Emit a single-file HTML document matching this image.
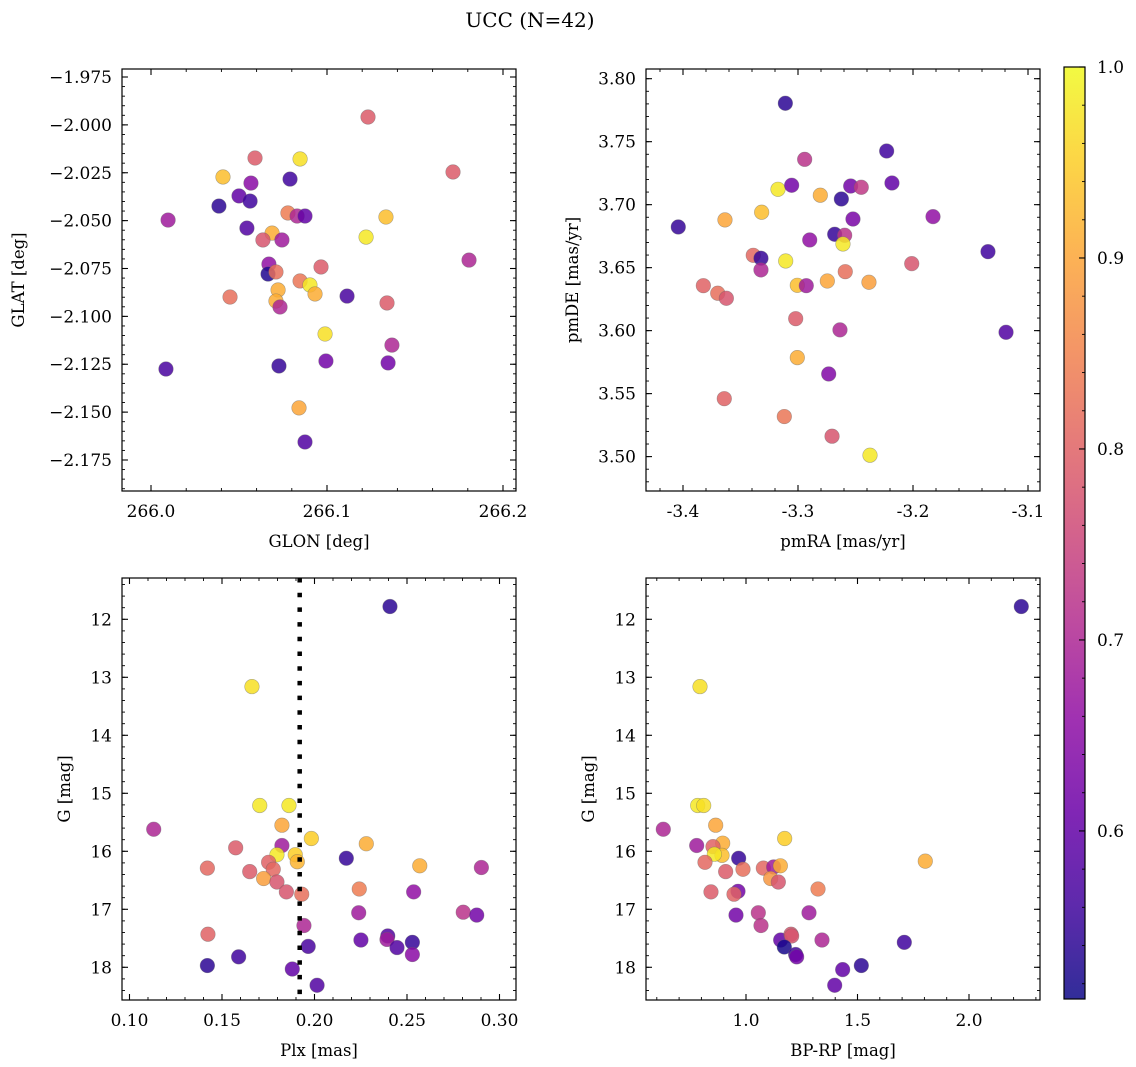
<!DOCTYPE html>
<html><head><meta charset="utf-8"><style>
html,body{margin:0;padding:0;background:#fff;}
svg{display:block;font-family:"DejaVu Serif","Liberation Serif",serif;}
</style></head><body>
<svg id="fig" width="1136" height="1067" viewBox="0 0 1136 1067" xmlns="http://www.w3.org/2000/svg">
<text x="530" y="27" font-size="20" text-anchor="middle">UCC (N=42)</text>
</svg>
<script>
// Panel 1: GLON vs GLAT
const glon=[266.1233,266.0591,266.0847,266.0409,266.0568,266.0790,266.1716,266.0500,266.0563,266.0386,266.0097,266.0778,266.0830,266.0875,266.1335,266.0545,266.0688,266.1222,266.0636,266.0744,266.1807,266.0670,266.0665,266.0710,266.0966,266.0847,266.0903,266.0722,266.0932,266.1114,266.0449,266.0710,266.0733,266.1341,266.0989,266.1369,266.0085,266.0727,266.0994,266.1347,266.0841,266.0875];
const glat=[-1.9959,-2.0173,-2.0178,-2.0272,-2.0304,-2.0283,-2.0246,-2.0371,-2.0398,-2.0424,-2.0497,-2.0460,-2.0476,-2.0476,-2.0481,-2.0539,-2.0565,-2.0586,-2.0601,-2.0601,-2.0706,-2.0727,-2.0779,-2.0768,-2.0742,-2.0815,-2.0836,-2.0862,-2.0883,-2.0894,-2.0899,-2.0920,-2.0951,-2.0930,-2.1092,-2.1150,-2.1275,-2.1259,-2.1233,-2.1243,-2.1478,-2.1656];
const prob1=[0.79,0.79,0.97,0.93,0.65,0.56,0.79,0.60,0.56,0.54,0.68,0.84,0.70,0.60,0.93,0.58,0.91,0.98,0.78,0.68,0.70,0.66,0.53,0.82,0.79,0.83,0.98,0.91,0.91,0.57,0.82,0.91,0.70,0.79,0.97,0.70,0.57,0.55,0.62,0.62,0.90,0.58];
// Panel 2: pmRA vs pmDE
const pmra=[-3.311,-3.2229,-3.2942,-3.3174,-3.3055,-3.2806,-3.2542,-3.2450,-3.2183,-3.2623,-3.3316,-3.3635,-3.4041,-3.2522,-3.1826,-3.2898,-3.2681,-3.2594,-3.2609,-3.1348,-3.3389,-3.3322,-3.3107,-3.2011,-3.3322,-3.2589,-3.3823,-3.3006,-3.2928,-3.2745,-3.2383,-3.3698,-3.3623,-3.3020,-3.2635,-3.1191,-3.3006,-3.2733,-3.3641,-3.3119,-3.2704,-3.2374];
const pmde=[3.7805,3.7426,3.7360,3.7122,3.7154,3.7075,3.7148,3.7138,3.7172,3.7045,3.6940,3.6879,3.6823,3.6886,3.6905,3.6720,3.6765,3.6757,3.6688,3.6627,3.6598,3.6575,3.6553,3.6532,3.6482,3.6468,3.6357,3.6360,3.6357,3.6394,3.6384,3.6297,3.6257,3.6095,3.6006,3.5987,3.5786,3.5656,3.5460,3.5318,3.5162,3.5011];
const prob2=[0.54,0.56,0.72,0.98,0.62,0.91,0.62,0.73,0.60,0.54,0.93,0.90,0.55,0.63,0.66,0.66,0.55,0.72,0.98,0.56,0.81,0.55,0.98,0.78,0.70,0.82,0.80,0.93,0.68,0.90,0.89,0.82,0.78,0.79,0.70,0.58,0.91,0.64,0.80,0.83,0.78,0.98];
// Panel 3: Plx vs G
const plx=[0.2408,0.1662,0.1704,0.1862,0.1131,0.1824,0.1983,0.2280,0.1574,0.1824,0.1797,0.1896,0.1907,0.2172,0.1752,0.1421,0.1777,0.2569,0.2902,0.1650,0.1725,0.1797,0.1848,0.1931,0.2242,0.2536,0.2239,0.2804,0.2877,0.1943,0.1424,0.2251,0.2396,0.2392,0.2446,0.2529,0.2529,0.1966,0.1590,0.1421,0.1880,0.2014];
const gmag3=[11.78,13.16,15.21,15.21,15.62,15.55,15.78,15.87,15.94,15.90,16.06,16.06,16.18,16.12,16.19,16.29,16.31,16.25,16.28,16.35,16.47,16.53,16.70,16.74,16.65,16.70,17.06,17.05,17.10,17.28,17.43,17.53,17.46,17.52,17.66,17.57,17.78,17.64,17.82,17.97,18.03,18.31];
const prob3=[0.54,0.97,0.98,0.98,0.70,0.90,0.95,0.91,0.79,0.68,0.98,0.95,0.92,0.55,0.80,0.81,0.81,0.91,0.70,0.79,0.89,0.78,0.78,0.82,0.84,0.66,0.68,0.72,0.62,0.70,0.80,0.60,0.58,0.68,0.58,0.55,0.65,0.57,0.56,0.54,0.60,0.58];
const plxLine=[0.192];
// Panel 4: BP-RP vs G
const bprp=[2.2345,0.7937,0.7834,0.8103,0.6291,0.8641,1.1734,0.8955,0.7789,0.8520,0.8924,0.8580,0.9671,0.8161,1.8040,0.9865,1.0777,1.1241,1.1540,0.9088,1.1106,1.1450,1.3229,0.8430,0.9641,0.9462,0.9552,1.0552,1.2825,1.0673,1.1554,1.2018,1.2047,1.3408,1.7099,1.1719,1.2227,1.2272,1.5171,1.4335,1.3978];
const gmag4=[11.78,13.16,15.21,15.21,15.62,15.55,15.78,15.86,15.90,15.92,16.07,16.05,16.12,16.19,16.17,16.31,16.29,16.27,16.25,16.35,16.47,16.53,16.65,16.70,16.69,16.74,17.10,17.06,17.06,17.28,17.53,17.43,17.46,17.53,17.57,17.65,17.78,17.82,17.97,18.04,18.31];
const prob4=[0.54,0.97,0.98,0.97,0.70,0.90,0.95,0.91,0.68,0.80,0.93,0.98,0.55,0.81,0.91,0.82,0.81,0.68,0.91,0.79,0.88,0.78,0.84,0.79,0.62,0.80,0.62,0.72,0.68,0.72,0.60,0.78,0.78,0.70,0.56,0.52,0.56,0.62,0.54,0.60,0.60];
// Tick labels
const ticks1x=[266.0,266.1,266.2];
const ticks1y=[-1.975,-2.000,-2.025,-2.050,-2.075,-2.100,-2.125,-2.150,-2.175];
const ticks2x=[-3.4,-3.3,-3.2,-3.1];
const ticks2y=[3.50,3.55,3.60,3.65,3.70,3.75,3.80];
const ticks3x=[0.10,0.15,0.20,0.25,0.30];
const ticksG=[12,13,14,15,16,17,18];
const ticks4x=[1.0,1.5,2.0];
const ticksC=[0.6,0.7,0.8,0.9,1.0];
const cmin=0.512, cmax=1.0;

const NS="http://www.w3.org/2000/svg";
const svg=document.getElementById('fig');
function mk(tag,attrs,parent){const e=document.createElementNS(NS,tag);for(const k in attrs)e.setAttribute(k,attrs[k]);(parent||svg).appendChild(e);return e;}
const stops=[[0,[13,8,135]],[0.1,[65,4,157]],[0.2,[106,0,168]],[0.3,[143,13,164]],[0.4,[177,42,144]],[0.5,[204,71,120]],[0.6,[225,100,98]],[0.7,[242,132,75]],[0.8,[252,166,54]],[0.9,[252,206,37]],[1.0,[240,249,33]]];
function plasma(t){t=Math.max(0,Math.min(1,t));for(let i=1;i<stops.length;i++){if(t<=stops[i][0]){const a=stops[i-1],b=stops[i];const f=(t-a[0])/(b[0]-a[0]);const c=a[1].map((v,j)=>Math.round(v+(b[1][j]-v)*f));return `rgb(${c[0]},${c[1]},${c[2]})`;}}return 'rgb(240,249,33)';}
function cnorm(v){return (v-cmin)/(cmax-cmin);}

function panel(p){
  const g=mk('g',{});
  
  
  const sx=v=>p.x0+(v-p.xmin)/(p.xmax-p.xmin)*p.w;
  const sy=v=>p.inv? p.y0+(v-p.ymin)/(p.ymax-p.ymin)*p.h : p.y0+(p.ymax-v)/(p.ymax-p.ymin)*p.h;
  const pts=mk('g',{},g);
  
  
  for(let i=0;i<p.xs.length&&i<p.ys.length;i++){
    const c=mk('circle',{cx:sx(p.xs[i]),cy:sy(p.ys[i]),r:7.3,fill:plasma(cnorm(p.cs[i])),'fill-opacity':0.85,stroke:'#666','stroke-opacity':0.5,'stroke-width':0.6},pts);
    
    
  }
  if(p.vline){for(const v of p.vline){const l=mk('line',{x1:sx(v),x2:sx(v),y1:p.y0,y2:p.y0+p.h,stroke:'#000','stroke-width':4.5,'stroke-dasharray':'4.5 10.2'},g);
    
    }}
  const fr=mk('rect',{x:p.x0,y:p.y0,width:p.w,height:p.h,fill:'none',stroke:'#000','stroke-width':1.2},g);
  
  
  const eps=1e-9;
  function minors(min,max,step){const a=[];for(let v=Math.ceil(min/step-eps)*step;v<=max+eps;v+=step)a.push(v);return a;}
  for(const v of minors(p.xmin,p.xmax,p.xminor)){const x=sx(v);mk('line',{x1:x,x2:x,y1:p.y0+p.h,y2:p.y0+p.h-3,stroke:'#000','stroke-width':0.9},g);mk('line',{x1:x,x2:x,y1:p.y0,y2:p.y0+3,stroke:'#000','stroke-width':0.9},g);}
  for(const v of minors(Math.min(p.ymin,p.ymax),Math.max(p.ymin,p.ymax),p.yminor)){const y=sy(v);mk('line',{x1:p.x0,x2:p.x0+3,y1:y,y2:y,stroke:'#000','stroke-width':0.9},g);mk('line',{x1:p.x0+p.w,x2:p.x0+p.w-3,y1:y,y2:y,stroke:'#000','stroke-width':0.9},g);}
  for(const v of p.xt){const x=sx(v);mk('line',{x1:x,x2:x,y1:p.y0+p.h,y2:p.y0+p.h-6,stroke:'#000','stroke-width':1.1},g);mk('line',{x1:x,x2:x,y1:p.y0,y2:p.y0+6,stroke:'#000','stroke-width':1.1},g);
    const t=mk('text',{x:x,y:p.y0+p.h+26,'font-size':17,'text-anchor':'middle'},g);t.textContent=v.toFixed(p.xd);
    
    }
  for(const v of p.yt){const y=sy(v);mk('line',{x1:p.x0,x2:p.x0+6,y1:y,y2:y,stroke:'#000','stroke-width':1.1},g);mk('line',{x1:p.x0+p.w,x2:p.x0+p.w-6,y1:y,y2:y,stroke:'#000','stroke-width':1.1},g);
    const t=mk('text',{x:p.x0-10,y:y+6,'font-size':17,'text-anchor':'end'},g);t.textContent=v.toFixed(p.yd).replace('-','\u2212');
    
    }
  const xl=mk('text',{x:p.x0+p.w/2,y:p.y0+p.h+56,'font-size':16.5,'text-anchor':'middle'},g);xl.textContent=p.xlabel;
  
  
  const yl=mk('text',{x:0,y:0,'font-size':16.5,'text-anchor':'middle',transform:`translate(${p.ylx},${p.y0+p.h/2}) rotate(-90)`},g);yl.textContent=p.ylabel;
  
  
}
panel({name:'glon-glat-panel',x0:122,y0:69,w:394,h:422,xmin:265.98352,xmax:266.20739,ymin:-2.19119,ymax:-1.97082,xs:glon,ys:glat,cs:prob1,xt:ticks1x,yt:ticks1y,xminor:0.02,yminor:0.005,xd:1,yd:3,xlabel:'GLON [deg]',ylabel:'GLAT [deg]',ylx:24});
panel({name:'pm-panel',x0:646,y0:69,w:394,h:422,xmin:-3.43217,xmax:-3.08957,ymin:3.4727,ymax:3.8077,xs:pmra,ys:pmde,cs:prob2,xt:ticks2x,yt:ticks2y,xminor:0.02,yminor:0.01,xd:1,yd:2,xlabel:'pmRA [mas/yr]',ylabel:'pmDE [mas/yr]',ylx:578});
panel({name:'plx-g-panel',x0:122,y0:578,w:394,h:422,xmin:0.09595,xmax:0.30892,ymin:11.288,ymax:18.564,inv:true,xs:plx,ys:gmag3,cs:prob3,xt:ticks3x,yt:ticksG,xminor:0.01,yminor:0.2,xd:2,yd:0,xlabel:'Plx [mas]',ylabel:'G [mag]',ylx:70,vline:plxLine});
panel({name:'cmd-panel',x0:646,y0:578,w:394,h:422,xmin:0.55157,xmax:2.31839,ymin:11.288,ymax:18.564,inv:true,xs:bprp,ys:gmag4,cs:prob4,xt:ticks4x,yt:ticksG,xminor:0.1,yminor:0.2,xd:1,yd:0,xlabel:'BP-RP [mag]',ylabel:'G [mag]',ylx:594});

const cb=mk('g',{});


const defs=mk('defs',{},cb);
const lg=mk('linearGradient',{id:'cbg',x1:0,y1:1,x2:0,y2:0},defs);
for(let i=0;i<=20;i++){mk('stop',{offset:i/20,'stop-color':plasma(i/20),'stop-opacity':0.85},lg);}
const cbx=1064,cby=67,cbw=21,cbh=932;
mk('rect',{x:cbx,y:cby,width:cbw,height:cbh,fill:'url(#cbg)',stroke:'#000','stroke-width':1.2},cb);
const cyv=v=>cby+(cmax-v)/(cmax-cmin)*cbh;
for(let v=0.52;v<=1.0001;v+=0.02){const y=cyv(v);mk('line',{x1:cbx+cbw,x2:cbx+cbw-3,y1:y,y2:y,stroke:'#000','stroke-width':0.9},cb);}
for(const v of ticksC){const y=cyv(v);mk('line',{x1:cbx+cbw,x2:cbx+cbw-6,y1:y,y2:y,stroke:'#000','stroke-width':1.1},cb);
  const t=mk('text',{x:1097,y:y+6,'font-size':17},cb);t.textContent=v.toFixed(1);
  
  }
</script>
</body></html>
